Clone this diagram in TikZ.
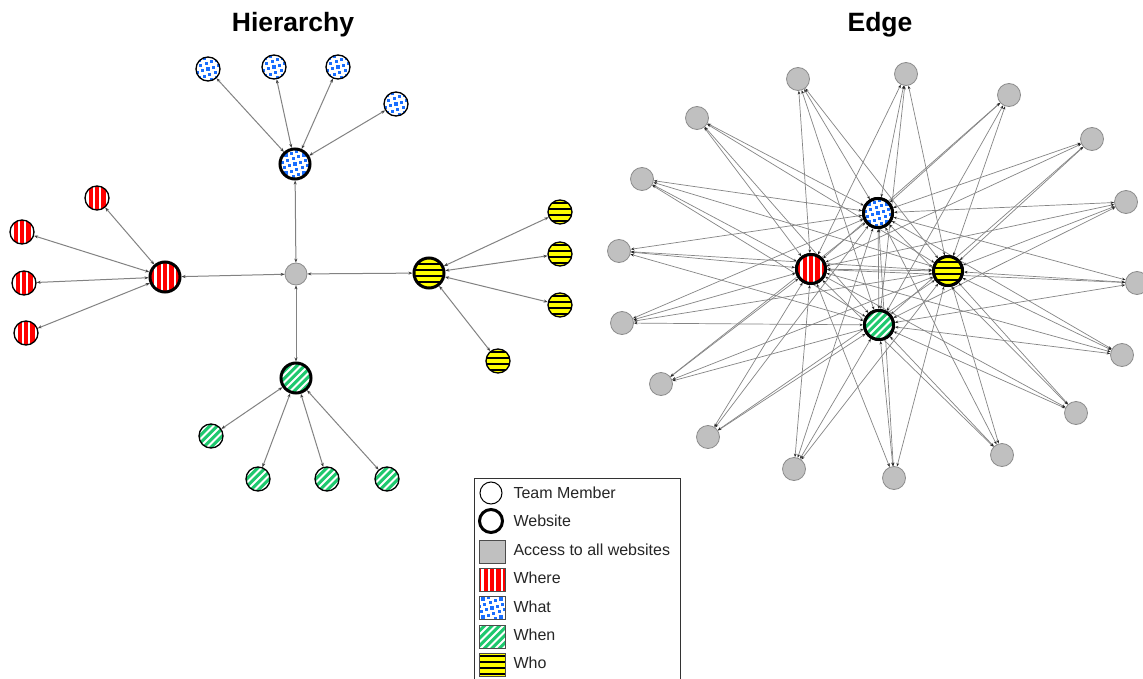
\documentclass[tikz,border=0pt]{standalone}
\usepackage{fontspec}
\setmainfont{Liberation Sans}
\usetikzlibrary{arrows.meta}
\definecolor{wred}{RGB}{255,0,0}
\definecolor{wblue}{RGB}{25,110,255}
\definecolor{wgreen}{RGB}{30,200,110}
\definecolor{wyellow}{RGB}{255,255,0}
\definecolor{ngray}{RGB}{192,192,192}
\definecolor{ngrayb}{RGB}{140,140,140}
\definecolor{egray}{RGB}{130,130,130}
\tikzset{
  pwhere/.style={path picture={\begin{scope}[shift={(path picture bounding box.center)}]
      \fill[white] (-30,-30) rectangle (30,30);
      \foreach \i in {-5,...,5}{\fill[wred] (\i*6.4-2.1,-30) rectangle (\i*6.4+2.1,30);}
    \end{scope}}},
  pwhat/.style={path picture={\begin{scope}[shift={(path picture bounding box.center)}]
      \fill[white] (-30,-30) rectangle (30,30);
      \foreach \i in {-5,...,5}{\foreach \j in {-5,...,5}{
        \fill[wblue] ({\i*5.4+\j*1.8-1.6},{\j*5.4-\i*1.8-1.6}) rectangle +(3.2,3.2);}}
    \end{scope}}},
  pwhen/.style={path picture={\begin{scope}[shift={(path picture bounding box.center)}]
      \fill[wgreen] (-30,-30) rectangle (30,30);
      \foreach \i in {-8,...,8}{\draw[white,line width=1.9pt] (\i*7.5-30,30) -- (\i*7.5+30,-30);}
    \end{scope}}},
  pwho/.style={path picture={\begin{scope}[shift={(path picture bounding box.center)}]
      \fill[wyellow] (-30,-30) rectangle (30,30);
      \foreach \i in {-5,...,5}{\fill[black] (-30,\i*6+3-1.3) rectangle (30,\i*6+3+1.3);}
    \end{scope}}},
  leaf/.style={circle, draw=black, line width=1.3pt, minimum size=24pt, inner sep=0pt},
  hub/.style={circle, draw=black, line width=3pt, minimum size=30pt, inner sep=0pt},
  grayn/.style={circle, draw=ngrayb, fill=ngray, line width=0.8pt, minimum size=22pt, inner sep=0pt},
  lk/.style={draw=egray, line width=1pt, {Stealth[length=4pt,width=3pt,color=black!75]}-{Stealth[length=4pt,width=3pt,color=black!75]}},
  ek/.style={draw=black!48, line width=0.7pt, {Stealth[length=3.5pt,width=2.6pt,color=black!85]}-{Stealth[length=3.5pt,width=2.6pt,color=black!85]}},
  ttl/.style={font=\fontsize{26.5}{30}\selectfont\bfseries, anchor=base},
  lgtext/.style={font=\fontsize{16}{18}\selectfont, anchor=west, text=black!85},
  lgsq/.style={draw=black!70, line width=0.8pt, minimum width=26pt, minimum height=23pt, inner sep=0pt}
}
\begin{document}
\begin{tikzpicture}[x=1pt,y=-1pt]
\clip (0,0) rectangle (1143,679);
\fill[white] (0,0) rectangle (1143,679);
% titles
\node[ttl] (t1) at (293,32) {Hierarchy};
\node[ttl] (t2) at (880,32) {Edge};
% ---------------- Hierarchy ----------------
\node[grayn] (c) at (296,274) {};
\node[hub,pwhere] (hR) at (165,277) {};
\node[hub,pwhat] (hB) at (295,164) {};
\node[hub,pwho] (hY) at (429,273) {};
\node[hub,pwhen] (hG) at (296,378) {};
\node[leaf,pwhere] (r1) at (97,198) {};
\node[leaf,pwhere] (r2) at (22,232) {};
\node[leaf,pwhere] (r3) at (24,283) {};
\node[leaf,pwhere] (r4) at (26,333) {};
\node[leaf,pwhat] (b1) at (208,69) {};
\node[leaf,pwhat] (b2) at (274,67) {};
\node[leaf,pwhat] (b3) at (338,67) {};
\node[leaf,pwhat] (b4) at (396,104) {};
\node[leaf,pwho] (y1) at (560,212) {};
\node[leaf,pwho] (y2) at (560,254) {};
\node[leaf,pwho] (y3) at (560,305) {};
\node[leaf,pwho] (y4) at (498,361) {};
\node[leaf,pwhen] (g1) at (211,436) {};
\node[leaf,pwhen] (g2) at (258,479) {};
\node[leaf,pwhen] (g3) at (327,479) {};
\node[leaf,pwhen] (g4) at (387,479) {};
\foreach \h/\l in {hR/r1,hR/r2,hR/r3,hR/r4,hB/b1,hB/b2,hB/b3,hB/b4,hY/y1,hY/y2,hY/y3,hY/y4,hG/g1,hG/g2,hG/g3,hG/g4,c/hR,c/hB,c/hY,c/hG}{
  \draw[lk] (\h) -- (\l);
}
% ---------------- Edge ----------------
\foreach \n/\x/\y in {1/798/79,2/906/74,3/1009/95,4/697/118,5/1092/139,6/642/179,7/1126/202,8/619/251,9/1137/283,10/622/323,11/1122/355,12/661/384,13/1076/413,14/708/437,15/1002/455,16/794/469,17/894/478}{
  \node[grayn,minimum size=23pt] (e\n) at (\x,\y) {};
}
\node[hub,pwhat,minimum size=29pt] (EB) at (878,213) {};
\node[hub,pwhere,minimum size=29pt] (ER) at (811,269) {};
\node[hub,pwho,minimum size=29pt] (EY) at (948,271) {};
\node[hub,pwhen,minimum size=29pt] (EG) at (879,325) {};
\foreach \n in {1,...,17}{
  \foreach \h in {EB,ER,EY,EG}{
    \draw[ek] (\h) -- (e\n);
  }
}
\draw[ek] (ER) -- (EY);
\draw[ek] (EB) -- (EG);
% redraw hubs on top
\node[hub,pwhat,minimum size=29pt] at (878,213) {};
\node[hub,pwhere,minimum size=29pt] at (811,269) {};
\node[hub,pwho,minimum size=29pt] at (948,271) {};
\node[hub,pwhen,minimum size=29pt] at (879,325) {};
% ---------------- Legend ----------------
\node[draw=black!80, line width=1pt, minimum width=206pt, minimum height=220pt, anchor=north west, inner sep=0pt] (lg) at (474,478) {};
\node[circle, draw=black, line width=1pt, minimum size=22pt, inner sep=0pt] (s1) at (491,493) {};
\node[circle, draw=black, line width=3pt, minimum size=23pt, inner sep=0pt] (s2) at (491,521) {};
\node[lgsq, fill=ngray] (s3) at (492,552) {};
\node[lgsq, pwhere] (s4) at (492,580) {};
\node[lgsq, pwhat] (s5) at (492,608) {};
\node[lgsq, pwhen] (s6) at (492,637) {};
\node[lgsq, pwho] (s7) at (492,665) {};
\node[lgtext] (l1) at (510,493) {Team Member};
\node[lgtext] (l2) at (510,521) {Website};
\node[lgtext] (l3) at (510,550) {Access to all websites};
\node[lgtext] (l4) at (510,578) {Where};
\node[lgtext] (l5) at (510,607) {What};
\node[lgtext] (l6) at (510,635) {When};
\node[lgtext] (l7) at (510,663) {Who};
\end{tikzpicture}
\end{document}
